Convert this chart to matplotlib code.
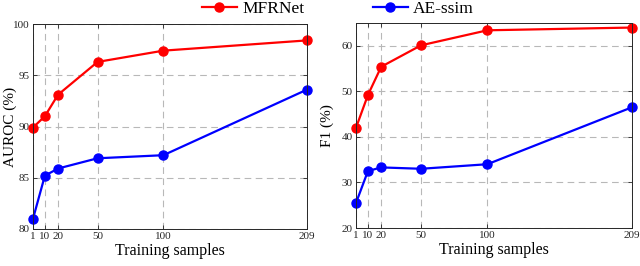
import matplotlib

matplotlib.use("Agg")
import matplotlib.pyplot as plt
from matplotlib.lines import Line2D

plt.rcParams["font.family"] = ["Liberation Serif", "DejaVu Serif"]
plt.rcParams["mathtext.fontset"] = "stix"

# --- data ---
samples = [1, 10, 20, 50, 100, 209]
auroc_mfrnet = [89.9, 91.0, 93.1, 96.3, 97.4, 98.4]
auroc_aessim = [81.0, 85.2, 85.9, 86.9, 87.2, 93.6]
f1_mfrnet = [42.0, 49.2, 55.4, 60.1, 63.4, 64.0]
f1_aessim = [25.5, 32.5, 33.3, 33.0, 34.0, 46.5]
tick_labels = ["1", "10", "20", "50", "100", "209"]

RED = "#ff0000"
BLUE = "#0000ff"

fig = plt.figure(figsize=(6.4, 2.66), dpi=100)
ax1 = fig.add_axes([33 / 640, 1 - 229 / 266, 274 / 640, 205 / 266])
ax2 = fig.add_axes([356 / 640, 1 - 228 / 266, 276 / 640, 205 / 266])


def style(ax, ylim, yticks, ylabel, label_x):
    ax.set_xlim(1, 209)
    ax.set_ylim(*ylim)
    ax.set_xticks(samples, tick_labels)
    ax.set_yticks(yticks)
    ax.grid(True, ls=(0, (6, 4)), color="#b8b8b8", lw=0.8)
    ax.set_axisbelow(True)
    ax.tick_params(direction="in", top=True, right=True, labelsize=8,
                   length=3, width=0.6, pad=2.5, colors="#262626")
    for sp in ax.spines.values():
        sp.set_linewidth(0.7)
        sp.set_color("#262626")
    ax.set_xlabel("Training samples", fontsize=11.5, labelpad=1)
    ax.set_ylabel(ylabel, fontsize=11)
    ax.yaxis.set_label_coords(label_x, 0.5)


ax1.plot(samples, auroc_mfrnet, color=RED, lw=1.6, marker="o", ms=6.5, clip_on=False)
ax1.plot(samples, auroc_aessim, color=BLUE, lw=1.6, marker="o", ms=6.5, clip_on=False)
style(ax1, (80, 100), [80, 85, 90, 95, 100], "AUROC (%)", -0.06)

ax2.plot(samples, f1_mfrnet, color=RED, lw=1.6, marker="o", ms=6.5, clip_on=False)
ax2.plot(samples, f1_aessim, color=BLUE, lw=1.6, marker="o", ms=6.5, clip_on=False)
style(ax2, (20, 65), [20, 30, 40, 50, 60], "F1 (%)", -0.08)

handles = [Line2D([], [], color=RED, lw=1.6, marker="o", ms=6.5),
           Line2D([], [], color=BLUE, lw=1.6, marker="o", ms=6.5)]
fig.legend(handles, ["MFRNet", "AE-ssim"], loc="center", bbox_to_anchor=(0.528, 0.965),
           ncol=2, frameon=False, fontsize=12.5, columnspacing=3.97,
           handlelength=2.0, handletextpad=0.3, borderpad=0)

fig.savefig("out.png", dpi=100)
